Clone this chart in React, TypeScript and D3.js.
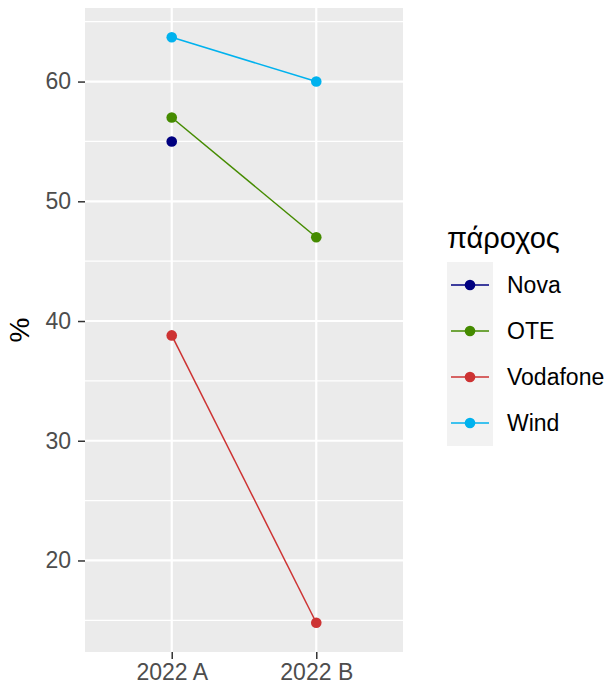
import { useEffect, useRef } from "react";
import { scaleLinear, scalePoint, axisLeft, axisBottom, select, line as d3Line } from "d3";

const periods = ["2022 A", "2022 B"];
const providers = ["Nova", "OTE", "Vodafone", "Wind"];
const nova = [55, null];
const ote = [57, 47];
const vodafone = [38.8, 14.8];
const wind = [63.7, 60];
const majorTicks = [20, 30, 40, 50, 60];
const minorTicks = [15, 25, 35, 45, 55, 65];
const colors = ["#000080", "#458B00", "#CD3333", "#00B2EE"];

const W = 613;
const H = 693;
const PANEL = { left: 85, top: 8, right: 403, bottom: 652 };
const FONT = "'Liberation Sans', Arial, sans-serif";

export default function App() {
  const svgRef = useRef<SVGSVGElement>(null);
  const series = [nova, ote, vodafone, wind];

  const all = series.flat().filter((v): v is number => v !== null);
  const lo = Math.min(...all);
  const hi = Math.max(...all);
  const pad = (hi - lo) * 0.05;
  const y = scaleLinear().domain([lo - pad, hi + pad]).range([PANEL.bottom, PANEL.top]);
  const x = scalePoint<string>().domain(periods).range([PANEL.left, PANEL.right]).padding(0.6);

  useEffect(() => {
    if (!svgRef.current) return;
    const svg = select(svgRef.current);

    const ya = svg.select<SVGGElement>(".y-axis")
      .attr("transform", `translate(${PANEL.left},0)`)
      .call(axisLeft(y).tickValues(majorTicks).tickSize(7).tickPadding(7));
    ya.select(".domain").remove();
    ya.selectAll("line").attr("stroke", "#333333").attr("stroke-width", 1.5);
    ya.selectAll("text").attr("fill", "#4D4D4D").attr("font-size", 23).attr("font-family", FONT);

    const xa = svg.select<SVGGElement>(".x-axis")
      .attr("transform", `translate(0,${PANEL.bottom})`)
      .call(axisBottom(x).tickSize(7).tickPadding(5));
    xa.select(".domain").remove();
    xa.selectAll("line").attr("stroke", "#333333").attr("stroke-width", 1.5);
    xa.selectAll("text").attr("fill", "#4D4D4D").attr("font-size", 23).attr("font-family", FONT);
  }, [x, y]);

  const lineGen = d3Line<number | null>()
    .defined((d) => d !== null)
    .x((_, i) => x(periods[i]) ?? 0)
    .y((d) => y(d as number));

  const legendX = 447;
  const keyTop = 262;
  const keyH = 46;

  return (
    <svg
      ref={svgRef}
      width={W}
      height={H}
      viewBox={`0 0 ${W} ${H}`}
      style={{ position: "absolute", left: 0, top: 0, background: "#fff" }}
    >
      <rect x={0} y={0} width={W} height={H} fill="#fff" />
      {/* panel */}
      <rect
        x={PANEL.left}
        y={PANEL.top}
        width={PANEL.right - PANEL.left}
        height={PANEL.bottom - PANEL.top}
        fill="#EBEBEB"
      />
      {minorTicks.map((t) => (
        <line key={"mi" + t} x1={PANEL.left} x2={PANEL.right} y1={y(t)} y2={y(t)} stroke="#fff" strokeWidth={1.2} />
      ))}
      {majorTicks.map((t) => (
        <line key={"ma" + t} x1={PANEL.left} x2={PANEL.right} y1={y(t)} y2={y(t)} stroke="#fff" strokeWidth={2.2} />
      ))}
      {periods.map((p) => (
        <line key={p} x1={x(p)} x2={x(p)} y1={PANEL.top} y2={PANEL.bottom} stroke="#fff" strokeWidth={2.2} />
      ))}

      {/* lines and points */}
      {series.map((s, i) => (
        <g key={providers[i]}>
          <path d={lineGen(s) ?? ""} fill="none" stroke={colors[i]} strokeWidth={1.5} />
          {s.map((v, j) =>
            v === null ? null : (
              <circle key={j} cx={x(periods[j])} cy={y(v)} r={5.3} fill={colors[i]} />
            )
          )}
        </g>
      ))}

      <g className="y-axis" />
      <g className="x-axis" />

      {/* y title */}
      <text
        transform={`translate(29,${(PANEL.top + PANEL.bottom) / 2}) rotate(-90)`}
        textAnchor="middle"
        fontSize={28}
        fontFamily={FONT}
        fill="#000"
      >
        %
      </text>

      {/* legend */}
      <text x={legendX} y={248} fontSize={29} fontFamily={FONT} fill="#000">
        πάροχος
      </text>
      <rect x={legendX} y={keyTop} width={46} height={keyH * providers.length} fill="#F2F2F2" />
      {providers.map((p, i) => {
        const cy = keyTop + keyH * i + keyH / 2;
        return (
          <g key={p}>
            <line x1={legendX + 4} x2={legendX + 42} y1={cy} y2={cy} stroke={colors[i]} strokeWidth={1.5} />
            <circle cx={legendX + 23} cy={cy} r={5.3} fill={colors[i]} />
            <text x={507} y={cy} dy="0.36em" fontSize={23} fontFamily={FONT} fill="#000">
              {p}
            </text>
          </g>
        );
      })}
    </svg>
  );
}
